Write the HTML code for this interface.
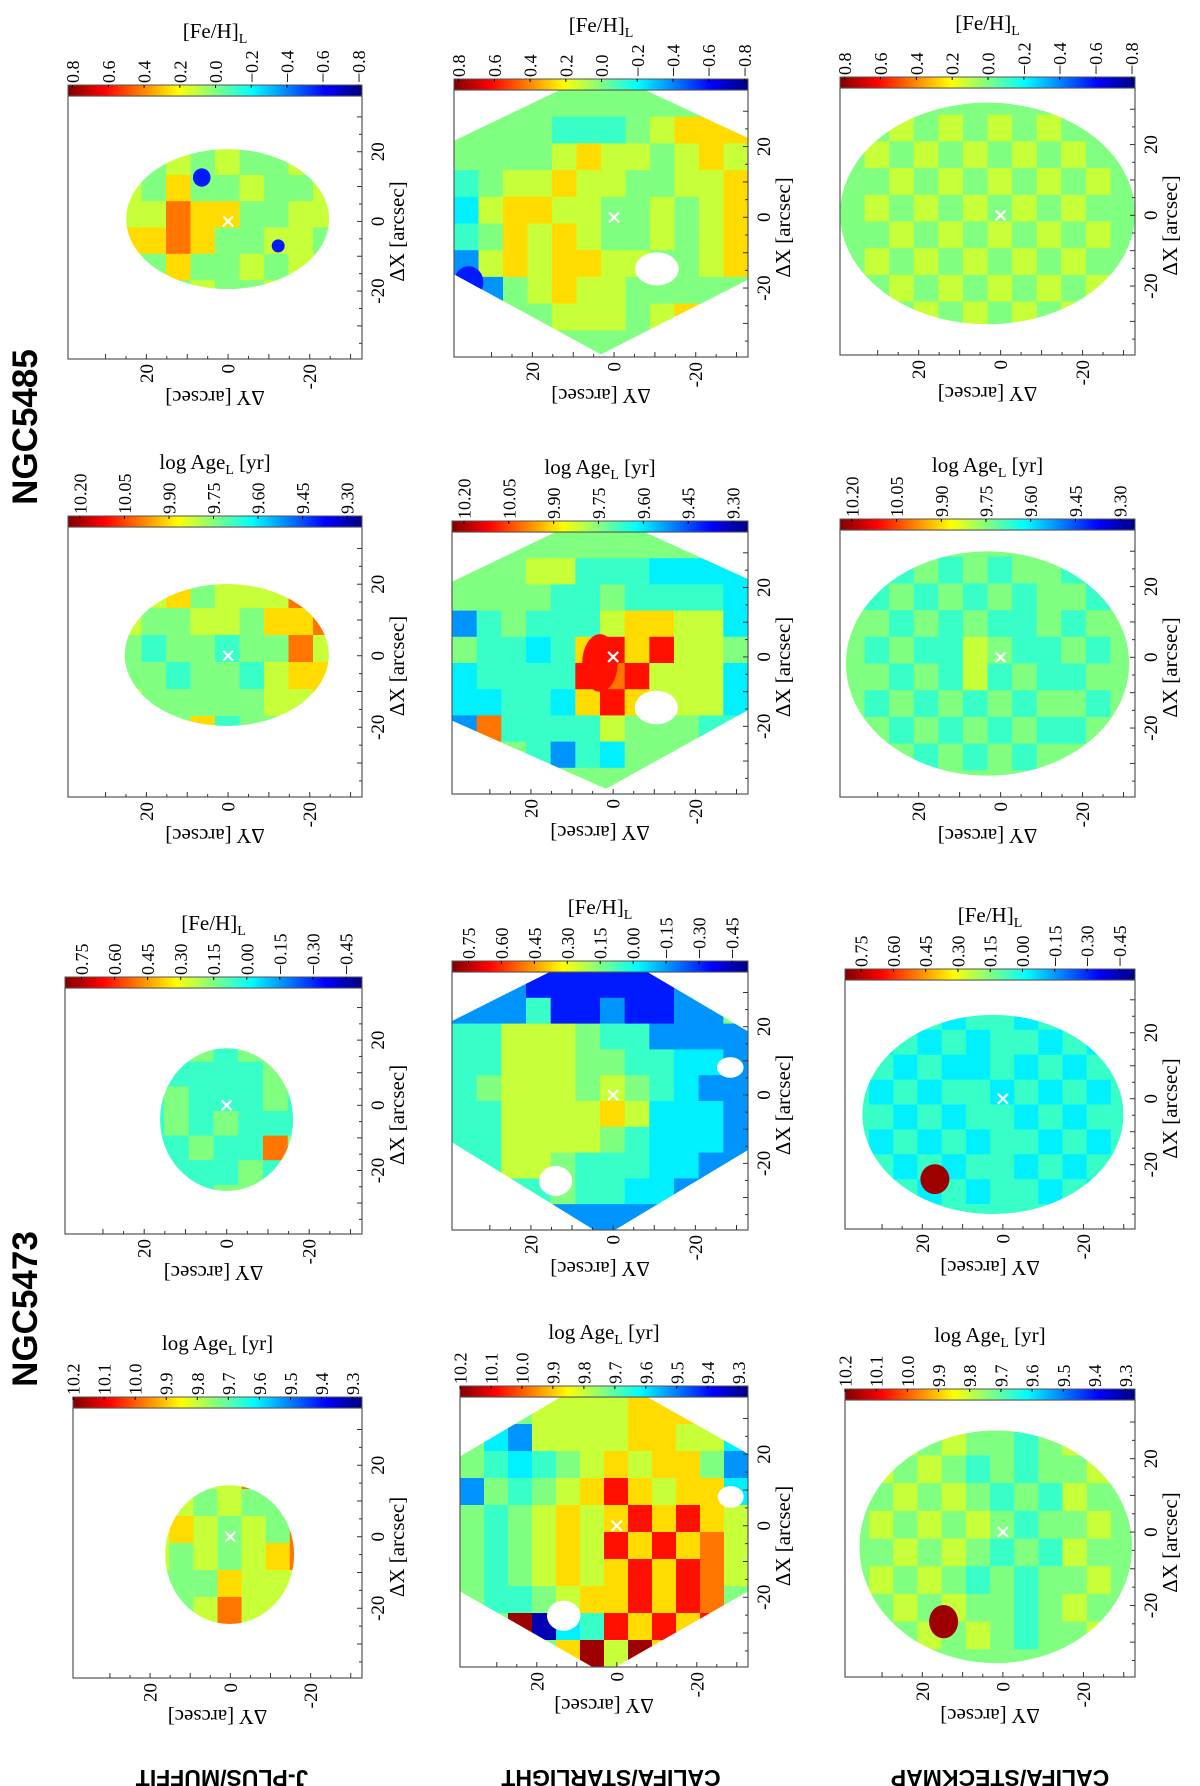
<!DOCTYPE html>
<html><head><meta charset="utf-8"><style>
html,body{margin:0;padding:0;background:#fff;}
svg{display:block;}
text{font-family:"Liberation Serif",serif;fill:#000;}
.big{font-family:"Liberation Sans",sans-serif;font-weight:bold;}
</style></head><body>
<svg id="fig" width="1200" height="1786" viewBox="0 0 1200 1786" xmlns="http://www.w3.org/2000/svg">
<defs>
<linearGradient id="jetbar" x1="0" y1="0" x2="1" y2="0">
<stop offset="0" stop-color="#800000"/><stop offset="0.125" stop-color="#ff0000"/>
<stop offset="0.375" stop-color="#ffff00"/><stop offset="0.5" stop-color="#80ff80"/>
<stop offset="0.625" stop-color="#00ffff"/><stop offset="0.875" stop-color="#0000ff"/>
<stop offset="1" stop-color="#000080"/>
</linearGradient>
</defs>
<rect x="0" y="0" width="1200" height="1786" fill="#fff"/>
<text class="big" font-size="35" text-anchor="middle" transform="translate(37,427) rotate(-90)">NGC5485</text>
<text class="big" font-size="35" text-anchor="middle" transform="translate(37,1309) rotate(-90)">NGC5473</text>
<text class="big" font-size="23" text-anchor="middle" transform="translate(222,1770) rotate(180)">J-PLUS/MUFFIT</text>
<text class="big" font-size="23" text-anchor="middle" transform="translate(611,1770) rotate(180)">CALIFA/STARLIGHT</text>
<text class="big" font-size="23" text-anchor="middle" transform="translate(1000,1770) rotate(180)">CALIFA/STECKMAP</text>
<g id="panels"></g>
</svg>
<script>
// ---- data: colour level codes per map (image orientation, rows top->bottom) ----
const levelT = {'0':0.05,'1':0.15,'2':0.27,'3':0.36,'4':0.43,'5':0.50,'6':0.57,'7':0.66,'8':0.76,'r':0.86,'9':0.97};
const gridFe85J = ["666666666666","666667665666","665565655666","766575565566","776687755666","877787556656","876575565666","766556556666","666655556666","666666666666"];
const gridFe85S = ["555555555555","555544456777","555567665676","456676655667","367766556567","457676556567","267677665567","125676655555","555566656755","555555555555"];
const gridFe85K = ["555555555555","556565656555","565656565655","556565656565","565656565655","556565656565","565656565655","556565656565","565656565655","555555555555"];
const gridAge85J = ["666666666666","668777566666","688675666886","886556657786","885455455866","885545546776","886555556676","888657455566","888877654666","666666666666"];
const gridAge85S = ["555555555555","555664443333","555544544443","245444677663","544347r7r665","34444r8r6663","334437r76663","284444655544","455424355555","555555555555"];
const gridAge85K = ["555555555555","554545455455","545454545545","554545445455","545446544545","554546454455","545454545545","554545454455","545454545545","555555555555"];
const gridFe73J = ["555555555555","555455554555","554555455555","554444445455","545454445455","544454544455","541445448555","524444454455","555424554555","555555555555"];
const gridFe73S = ["222111111225","222411211225","446665442222","446665544332","456665654322","446666763332","446666543332","446654443322","234454433222","222222222222"];
const gridFe73K = ["444444444444","443434434444","434343443434","443433434344","434344343434","443434434344","434343443434","443434434344","434343443434","444444444444"];
const gridAge73J = ["666666666666","666556845666","665656685666","666565655566","667676565866","646656567866","644555766666","645656866666","666666666666","666666666666"];
const gridAge73S = ["555666677755","532666677663","543456767752","254567r76773","5456767r7r76","545676r7r786","5456767r7r86","5445677r7r85","559034r7r7r5","555579697r85"];
const gridAge73K = ["555555555555","556565545655","565654545565","556565454655","565656545565","556565454655","565654545565","556565545655","565656545565","555555555555"];
// colour-bar ranges (left = max, right = min) and tick labels
const feRange85 = [0.826, -0.82];
const feTicks85 = [0.8,0.6,0.4,0.2,0.0,-0.2,-0.4,-0.6,-0.8];
const ageRange85 = [10.24, 9.25];
const ageTicks85 = [10.20,10.05,9.90,9.75,9.60,9.45,9.30];
const feRange73 = [0.825, -0.523];
const feTicks73 = [0.75,0.60,0.45,0.30,0.15,0.00,-0.15,-0.30,-0.45];
const ageRange73 = [10.2, 9.27];
const ageTicks73 = [10.2,10.1,10.0,9.9,9.8,9.7,9.6,9.5,9.4,9.3];
const dyDomain = [39.2, -32.8];
const dxDomain = [36, -39.5];
const axisTickVals = [30,25,20,15,10,5,0,-5,-10,-15,-20,-25,-30,-35];
const axisLabelVals = [20,0,-20];

// ---- layout ----
const hexS0 = [[0,.19],[.36,0],[.65,0],[1,.18],[1,.71],[.5,.99],[0,.69]];
const hexS1 = [[0,.19],[.35,0],[.65,0],[1,.18],[1,.68],[.52,.98],[0,.72]];
const hexS2 = [[0,.19],[.33,0],[.66,0],[1,.23],[1,.69],[.55,1],[.48,1],[0,.66]];
const hexS3 = [[0,.22],[.35,0],[.65,0],[1,.21],[1,.72],[.54,1],[.46,1],[0,.72]];
const panels = [
 {n:'ngc5485-feh-jplus',x0:68,x1:362,y0:96,y1:359,kind:'fe',gal:85,grid:gridFe85J,shape:{e:[.543,.468,.345,.266]},holes:[],feats:[[.455,.31,.03,.035,'1'],[.715,.57,.022,.025,'1']]},
 {n:'ngc5485-feh-starlight',x0:454,x1:748,y0:90,y1:357,kind:'fe',gal:85,grid:gridFe85S,shape:{p:hexS0},holes:[[.69,.67,.074,.062]],feats:[[.05,.72,.05,.06,'1']]},
 {n:'ngc5485-feh-steckmap',x0:840,x1:1135,y0:88,y1:355,kind:'fe',gal:85,grid:gridFe85K,shape:{e:[.5,.47,.5,.415]},holes:[],feats:[]},
 {n:'ngc5485-age-jplus',x0:68,x1:362,y0:527,y1:797,kind:'age',gal:85,grid:gridAge85J,shape:{e:[.54,.474,.347,.263]},holes:[],feats:[]},
 {n:'ngc5485-age-starlight',x0:452,x1:748,y0:532,y1:794,kind:'age',gal:85,grid:gridAge85S,shape:{p:hexS1},holes:[[.69,.67,.073,.064]],feats:[[.5,.5,.06,.11,'r']]},
 {n:'ngc5485-age-steckmap',x0:840,x1:1135,y0:530,y1:797,kind:'age',gal:85,grid:gridAge85K,shape:{e:[.5,.5,.48,.42]},holes:[],feats:[]},
 {n:'ngc5473-feh-jplus',x0:65,x1:362,y0:988,y1:1234,kind:'fe',gal:73,grid:gridFe73J,shape:{e:[.544,.535,.224,.29]},holes:[],feats:[]},
 {n:'ngc5473-feh-starlight',x0:452,x1:748,y0:972,y1:1230,kind:'fe',gal:73,grid:gridFe73S,shape:{p:hexS2},holes:[[.35,.81,.056,.058],[.94,.37,.045,.04]],feats:[]},
 {n:'ngc5473-feh-steckmap',x0:845,x1:1135,y0:980,y1:1229,kind:'fe',gal:73,grid:gridFe73K,shape:{e:[.51,.54,.45,.4]},holes:[],feats:[[.31,.8,.05,.06,'9']]},
 {n:'ngc5473-age-jplus',x0:73,x1:362,y0:1408,y1:1678,kind:'age',gal:73,grid:gridAge73J,shape:{e:[.542,.543,.223,.257]},holes:[],feats:[]},
 {n:'ngc5473-age-starlight',x0:460,x1:748,y0:1397,y1:1667,kind:'age',gal:73,grid:gridAge73S,shape:{p:hexS3},holes:[[.36,.81,.058,.056],[.94,.37,.045,.04]],feats:[]},
 {n:'ngc5473-age-steckmap',x0:845,x1:1135,y0:1400,y1:1677,kind:'age',gal:73,grid:gridAge73K,shape:{e:[.52,.53,.47,.42]},holes:[],feats:[[.34,.8,.05,.06,'9']]}
];
const NS='http://www.w3.org/2000/svg';
function mk(tag, attrs, parent){const e=document.createElementNS(NS,tag);for(const k in attrs)e.setAttribute(k,attrs[k]);if(parent)parent.appendChild(e);return e;}
function jet(t){const c=v=>Math.round(255*Math.max(0,Math.min(1,v)));return 'rgb('+c(1.5-Math.abs(4*t-3))+','+c(1.5-Math.abs(4*t-2))+','+c(1.5-Math.abs(4*t-1))+')';}
const root=document.getElementById('panels');
const defs=document.querySelector('defs');
panels.forEach((p,i)=>{
  const W=p.x1-p.x0,H=p.y1-p.y0;
  const xS=v=>p.x0+(dyDomain[0]-v)/(dyDomain[0]-dyDomain[1])*W;
  const yS=v=>p.y0+(dxDomain[0]-v)/(dxDomain[0]-dxDomain[1])*H;
  const fx=f=>p.x0+f*W, fy=f=>p.y0+f*H;
  const g=mk('g',{},root);
  
  
  const cp=mk('clipPath',{id:'clip'+i},defs);
  if(p.shape.e){const e=p.shape.e;mk('ellipse',{cx:fx(e[0]),cy:fy(e[1]),rx:e[2]*W,ry:e[3]*H},cp);}
  else mk('polygon',{points:p.shape.p.map(q=>fx(q[0])+','+fy(q[1])).join(' ')},cp);
  const map=mk('g',{'clip-path':'url(#clip'+i+')'},g);
  
  
  const rows=p.grid.length, cols=p.grid[0].length;
  for(let r=0;r<rows;r++)for(let c=0;c<cols;c++){
    const ch=p.grid[r][c]; if(!(ch in levelT)) continue;
    const cell=mk('rect',{x:fx(c/cols),y:fy(r/rows),width:W/cols+0.6,height:H/rows+0.6,fill:jet(levelT[ch])},map);
    
    
  }
  p.feats.forEach(f=>{const e=mk('ellipse',{cx:fx(f[0]),cy:fy(f[1]),rx:f[2]*W,ry:f[3]*H,fill:jet(levelT[f[4]])},map);
    
    });
  p.holes.forEach(h=>{const e=mk('ellipse',{cx:fx(h[0]),cy:fy(h[1]),rx:h[2]*W,ry:h[3]*H,fill:'#fff'},map);
    
    });
  const cx=xS(0), cy=yS(0);
  const cm=mk('path',{d:`M${cx-5},${cy-5}L${cx+5},${cy+5}M${cx-5},${cy+5}L${cx+5},${cy-5}`,stroke:'#fff','stroke-width':2.2},g);
  
  
  const fr=mk('rect',{x:p.x0,y:p.y0,width:W,height:H,fill:'none',stroke:'#555','stroke-width':1.2},g);
  
  
  axisTickVals.forEach(v=>{
    const x=xS(v); if(x>p.x0+2&&x<p.x1-2) mk('line',{x1:x,x2:x,y1:p.y1,y2:p.y1-(v%10===0?5:3),stroke:'#333'},g);
    const y=yS(v); if(y>p.y0+2&&y<p.y1-2) mk('line',{x1:p.x1,x2:p.x1-(v%10===0?5:3),y1:y,y2:y,stroke:'#333'},g);
  });
  axisLabelVals.forEach(v=>{
    const t1=mk('text',{'font-size':19,'text-anchor':'end',transform:`translate(${xS(v)+6.5},${p.y1+5}) rotate(-90)`},g);
    t1.textContent=String(v);
    
    
    const t2=mk('text',{'font-size':19,'text-anchor':'middle',transform:`translate(${p.x1+22},${yS(v)}) rotate(-90)`},g);
    t2.textContent=String(v);
    
    
  });
  const tx=mk('text',{'font-size':21,'text-anchor':'middle',transform:`translate(${p.x1+42},${(p.y0+p.y1)/2+4}) rotate(-90)`},g);
  tx.textContent='ΔX [arcsec]';
  
  
  const ty=mk('text',{'font-size':21,'text-anchor':'middle',transform:`translate(${(p.x0+p.x1)/2},${p.y1+32}) rotate(180)`},g);
  ty.textContent='ΔY [arcsec]';
  
  
  const rng = p.kind==='fe' ? (p.gal===85?feRange85:feRange73) : (p.gal===85?ageRange85:ageRange73);
  const tks = p.kind==='fe' ? (p.gal===85?feTicks85:feTicks73) : (p.gal===85?ageTicks85:ageTicks73);
  const bTop=p.y0-11;
  const cb=mk('rect',{x:p.x0,y:bTop,width:W,height:11,fill:'url(#jetbar)',stroke:'#555','stroke-width':1},g);
  
  
  const bx=v=>p.x0+(rng[0]-v)/(rng[0]-rng[1])*W;
  const dec = p.kind==='age' ? (p.gal===85?2:1) : (p.gal===85?1:2);
  tks.forEach(v=>{
    const x=bx(v);
    mk('line',{x1:x,x2:x,y1:bTop,y2:bTop+3,stroke:'#000'},g);
    const t=mk('text',{'font-size':18,'text-anchor':'start',transform:`translate(${x+6.5},${bTop-2}) rotate(-90)`},g);
    t.textContent=(v<0?'\u2212':'')+Math.abs(v).toFixed(dec);
    
    
  });
  const ct=mk('text',{'font-size':21,'text-anchor':'middle',x:(p.x0+p.x1)/2,y:bTop-47},g);
  
  
  if(p.kind==='fe'){ct.innerHTML='[Fe/H]<tspan font-size="14" dy="5">L</tspan>';}
  else {ct.innerHTML='log Age<tspan font-size="14" dy="5">L</tspan><tspan dy="-5"> [yr]</tspan>';}
});
</script>
</body></html>
